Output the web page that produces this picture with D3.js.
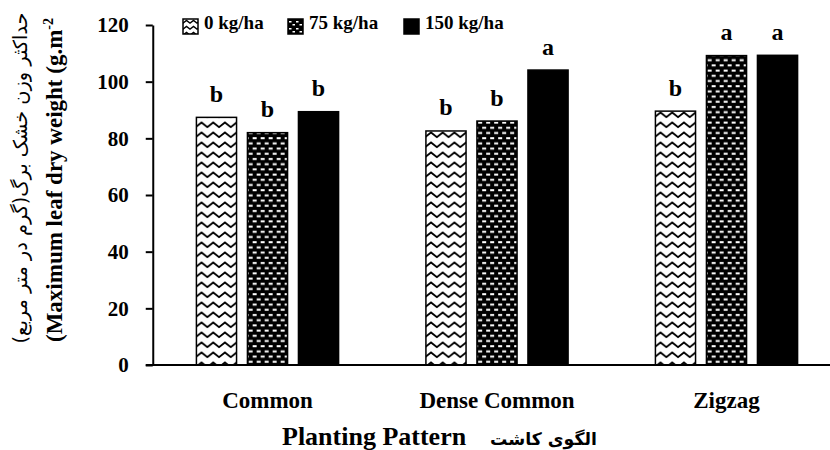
<!DOCTYPE html>
<html>
<head>
<meta charset="utf-8">
<script src="https://cdn.jsdelivr.net/npm/d3@7"></script>
<style>
  body { margin: 0; background: #fff; }
  svg { display: block; }
</style>
</head>
<body>
<svg id="chart" width="830" height="450"></svg>
<script>
// ---- data ----
const categories = ["Common", "Dense Common", "Zigzag"];
const series = ["0 kg/ha", "75 kg/ha", "150 kg/ha"];
const values0 = [87.4, 82.6, 89.6];
const values75 = [82.0, 86.1, 109.2];
const values150 = [89.4, 104.1, 109.3];
const letters0 = ["b", "b", "b"];
const letters75 = ["b", "b", "a"];
const letters150 = ["b", "a", "a"];
const yTicks = [0, 20, 40, 60, 80, 100, 120];
const yTitleFa = "حداکثر وزن خشک برگ(گرم در متر مربع)";
const yTitleEn = "(Maximum leaf dry weight (g.m";
const yTitleSup = "-2";
const xTitleEn = "Planting Pattern";
const xTitleFa = "الگوی کاشت";

const seriesValues = [values0, values75, values150];
const seriesLetters = [letters0, letters75, letters150];
const rows = categories.map((c, i) => ({
  category: c,
  bars: series.map((s, j) => ({ series: s, idx: j, value: seriesValues[j][i], letter: seriesLetters[j][i] }))
}));

// ---- layout ----
const svg = d3.select("#chart");
const W = 830, H = 450;
const plotLeft = 152.75, plotRight = 841.25, plotTop = 25, plotBottom = 365;
const serif = '"Liberation Serif", "Times New Roman", "DejaVu Sans", serif';

const x0 = d3.scaleBand().domain(categories).range([plotLeft, plotRight])
  .paddingInner(0.374).paddingOuter(0.187);
const x1 = d3.scaleBand().domain(series).range([0, x0.bandwidth()]).paddingInner(0.184).paddingOuter(0);
const y = d3.scaleLinear().domain([0, 120]).range([plotBottom, plotTop]);

// ---- patterns ----
const defs = svg.append("defs");
const zz = defs.append("pattern").attr("id", "zig").attr("patternUnits", "userSpaceOnUse")
  .attr("width", 11.7).attr("height", 10);
zz.append("rect").attr("width", 11.7).attr("height", 10).attr("fill", "#fff");
zz.append("path").attr("d", "M-0.5,7.5 L5.85,2.5 L12.2,7.5").attr("fill", "none")
  .attr("stroke", "#000").attr("stroke-width", 1.8);

const zzs = defs.append("pattern").attr("id", "zigSmall").attr("patternUnits", "userSpaceOnUse")
  .attr("width", 7).attr("height", 6);
zzs.append("rect").attr("width", 7).attr("height", 6).attr("fill", "#fff");
zzs.append("path").attr("d", "M-0.5,4.5 L3.5,1.5 L7.5,4.5").attr("fill", "none")
  .attr("stroke", "#000").attr("stroke-width", 1.5);

const br = defs.append("pattern").attr("id", "brick").attr("patternUnits", "userSpaceOnUse")
  .attr("width", 8).attr("height", 10.4);
br.append("rect").attr("width", 8).attr("height", 10.4).attr("fill", "#000");
br.append("rect").attr("x", 1).attr("y", 2).attr("width", 4).attr("height", 2).attr("fill", "#fff");
br.append("rect").attr("x", 5).attr("y", 7.2).attr("width", 4).attr("height", 2).attr("fill", "#fff");
br.append("rect").attr("x", -3).attr("y", 7.2).attr("width", 4).attr("height", 2).attr("fill", "#fff");

const brs = defs.append("pattern").attr("id", "brickSmall").attr("patternUnits", "userSpaceOnUse")
  .attr("width", 7).attr("height", 7);
brs.append("rect").attr("width", 7).attr("height", 7).attr("fill", "#000");
brs.append("rect").attr("x", 1).attr("y", 2).attr("width", 2.5).attr("height", 1.5).attr("fill", "#fff");
brs.append("rect").attr("x", 4.5).attr("y", 5).attr("width", 2.5).attr("height", 1.5).attr("fill", "#fff");

const fills = ["url(#zig)", "url(#brick)", "#000"];
const legendFills = ["url(#zigSmall)", "url(#brickSmall)", "#000"];

// ---- bars ----
const groups = svg.append("g").selectAll("g").data(rows).join("g")
  .attr("transform", d => `translate(${x0(d.category)},0)`);

groups.selectAll("rect").data(d => d.bars).join("rect")
  .attr("x", d => x1(d.series) + 0.75)
  .attr("width", x1.bandwidth() - 1.5)
  .attr("y", d => y(d.value))
  .attr("height", d => y(0) - y(d.value))
  .attr("fill", d => fills[d.idx])
  .attr("stroke", "#000").attr("stroke-width", 1.5);

groups.selectAll("text").data(d => d.bars).join("text")
  .attr("x", d => x1(d.series) + x1.bandwidth() / 2)
  .attr("y", d => y(d.value) - 15.5)
  .attr("text-anchor", "middle")
  .attr("font-family", serif).attr("font-weight", "bold").attr("font-size", 24)
  .text(d => d.letter);

// ---- axes ----
const yAxis = d3.axisLeft(y).tickValues(yTicks).tickSize(7).tickPadding(17).tickSizeOuter(0);
const gy = svg.append("g").attr("transform", `translate(${plotLeft},0)`).call(yAxis);
gy.select(".domain").attr("stroke", "#000").attr("stroke-width", 2);
gy.selectAll(".tick line").attr("stroke", "#000").attr("stroke-width", 2);
gy.selectAll(".tick text").attr("font-family", serif).attr("font-weight", "bold")
  .attr("font-size", 21).attr("fill", "#000");

svg.append("line").attr("x1", plotLeft - 7).attr("x2", W).attr("y1", y(0)).attr("y2", y(0))
  .attr("stroke", "#000").attr("stroke-width", 2);

const xAxis = d3.axisBottom(x0).tickSize(0).tickPadding(27);
const gx = svg.append("g").attr("transform", `translate(0,${y(0)})`).call(xAxis);
gx.select(".domain").remove();
gx.selectAll(".tick text").attr("font-family", serif).attr("font-weight", "bold")
  .attr("font-size", 23).attr("fill", "#000");

// ---- x title ----
svg.append("text").attr("x", 282).attr("y", 445)
  .attr("font-family", serif).attr("font-weight", "bold").attr("font-size", 26)
  .text(xTitleEn);
const xFa = svg.append("text").attr("x", 490).attr("y", 445).attr("text-anchor", "start")
  .attr("font-family", '"DejaVu Sans", sans-serif').attr("font-weight", "bold").attr("font-size", 20)
  .text(xTitleFa);
const xFaLen = xFa.node().getComputedTextLength();
xFa.attr("font-size", 20 * 107 / xFaLen);

// ---- y title ----
const yEn = svg.append("text").attr("transform", "translate(62,180) rotate(-90)")
  .attr("text-anchor", "middle")
  .attr("font-family", serif).attr("font-weight", "bold").attr("font-size", 23);
yEn.append("tspan").text(yTitleEn);
yEn.append("tspan").attr("font-size", 14).attr("dy", -9).text(yTitleSup);

const yFa = svg.append("text").attr("transform", "translate(27,178) rotate(-90)")
  .attr("text-anchor", "middle")
  .attr("font-family", '"DejaVu Sans", sans-serif').attr("font-size", 18)
  .text(yTitleFa);
// fit Persian label to its reference span
const faLen = yFa.node().getComputedTextLength();
yFa.attr("font-size", 18 * 331 / faLen);

// ---- legend ----
const legendX = [183, 288, 404];
const lg = svg.append("g").selectAll("g").data(series).join("g")
  .attr("transform", (d, i) => `translate(${legendX[i]},19)`);
lg.append("rect").attr("width", 15).attr("height", 15)
  .attr("fill", (d, i) => legendFills[i]).attr("stroke", "#000").attr("stroke-width", 1.5);
lg.append("text").attr("x", 21).attr("y", 10)
  .attr("font-family", serif).attr("font-weight", "bold").attr("font-size", 19)
  .text(d => d);
</script>
</body>
</html>
